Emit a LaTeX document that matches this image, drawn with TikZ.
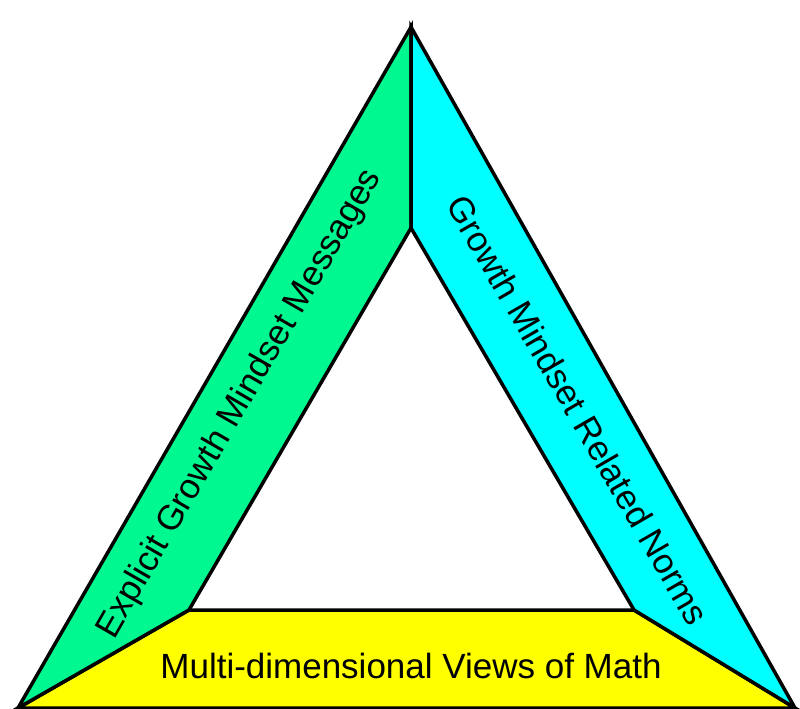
\documentclass[tikz,border=0pt]{standalone}
\usepackage{fontspec}
\setmainfont{Liberation Sans}
\definecolor{sidegreen}{RGB}{0,248,144}
\definecolor{sidecyan}{RGB}{0,255,255}
\definecolor{sideyellow}{RGB}{255,255,0}
\begin{document}
\begin{tikzpicture}[x=1pt,y=-1pt,
  side/.style={draw=black,line width=3.5pt,line join=miter},
  lbl/.style={font=\fontsize{35}{40}\selectfont,inner sep=0pt,text=black}]
\useasboundingbox (0,0) rectangle (800,709);
% outer and inner corners (image coordinates, y downward)
\coordinate (A) at (411,27);
\coordinate (B) at (18,708);
\coordinate (C) at (795,708);
\coordinate (D) at (411,228);
\coordinate (E) at (189,610);
\coordinate (F) at (634,610);
\fill[white] (0,0) rectangle (800,709);
\draw[side,fill=sideyellow] (E) -- (F) -- (C) -- (B) -- cycle;
\draw[side,fill=sidegreen] (A) -- (D) -- (E) -- (B) -- cycle;
\draw[side,fill=sidecyan] (A) -- (C) -- (F) -- (D) -- cycle;
\node[lbl,rotate=60] (left) at (240,404) {Explicit Growth Mindset Messages};
\node[lbl,rotate=-60] (right) at (578,410) {Growth Mindset Related Norms};
\node[lbl] (bottom) at (411,666) {Multi-dimensional Views of Math};
\end{tikzpicture}
\end{document}
